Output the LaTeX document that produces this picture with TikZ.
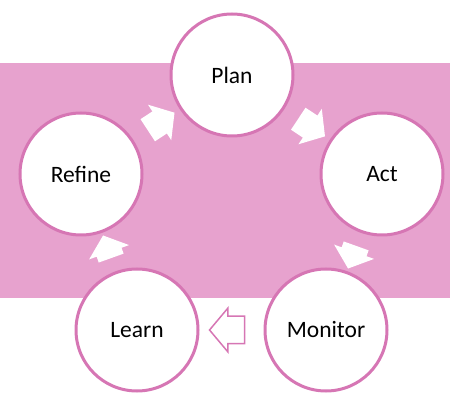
\documentclass[tikz,border=0pt]{standalone}
\usepackage{fontspec}
\setmainfont{Carlito}
\usetikzlibrary{shapes.arrows}
\definecolor{rosefill}{RGB}{231,162,206}
\definecolor{roseline}{RGB}{214,118,180}

\begin{document}
\begin{tikzpicture}[
        x=1pt, y=-1pt,
        stage/.style={circle, draw=roseline, line width=3pt, fill=white,
          minimum size=122pt, font=\fontsize{23.5}{28}\selectfont},
        flow/.style={single arrow, fill=white, inner xsep=0pt, inner ysep=13pt,
          single arrow head extend=8pt, single arrow tip angle=100,
          minimum height=#1, sloped, allow upside down, midway}
        ]
        \useasboundingbox (0,0) rectangle (450,403);
        \fill[rosefill] (0,63) rectangle (450,298);
        \node[stage] (plan) at (232,75) {Plan};
        \node[stage] (act) at (382,174) {Act};
        \node[stage] (monitor) at (326,330) {Monitor};
        \node[stage] (learn) at (137,330) {Learn};
        \node[stage] (refine) at (81,174) {Refine};
        \path (plan) -- (act) node[flow=32pt] {};
        \path (act) -- (monitor) node[flow=24pt] {};
        \path (monitor) -- (learn) node[flow=35pt, pos=0.48, draw=roseline, line width=1.5pt] {};
        \path (learn) -- (refine) node[flow=24pt] {};
        \path (refine) -- (plan) node[flow=32pt] {};
\end{tikzpicture}
\end{document}
